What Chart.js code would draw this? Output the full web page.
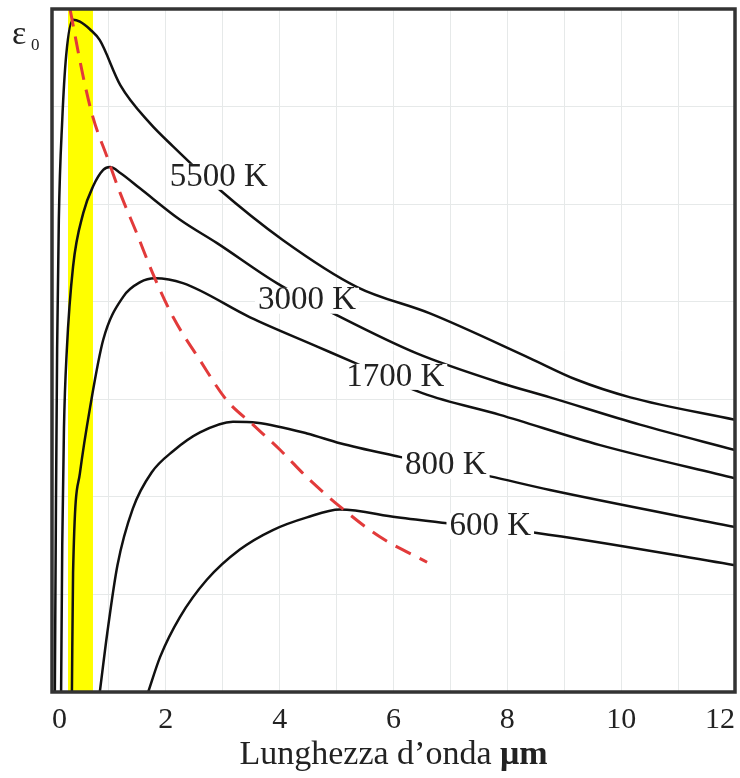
<!DOCTYPE html>
<html lang="it">
  <head>
    <meta charset="UTF-8" />
    <title>Corpo nero</title>
    <script src="https://cdn.jsdelivr.net/npm/chart.js"></script>
    <style>
      body {
        margin: 0;
        padding: 0;
        background: #fff;
      }

      #wrap {
        width: 740px;
        height: 778px;
      }
    </style>
  </head>
  <body>
    <div id="wrap"><canvas id="planck"></canvas></div>

    <script>
      // curve labels (temperatures)
      const kelvin = ["5500 K", "3000 K", "1700 K", "800 K", "600 K"];

      // wavelength (um) and relative emission
      const x5500 = [0.05, 0.07, 0.09, 0.12, 0.18, 0.25, 0.37, 0.49, 0.67, 0.84, 1.2, 1.72, 2.13, 2.9, 4.06, 5.36, 6.64, 8.4, 9.22, 10.16, 12];
      const y5500 = [0, 1.97, 3.51, 4.84, 5.86, 6.53, 6.89, 6.87, 6.79, 6.68, 6.22, 5.83, 5.59, 5.17, 4.63, 4.15, 3.88, 3.42, 3.2, 3.02, 2.79];

      const x3000 = [0.16, 0.18, 0.21, 0.26, 0.37, 0.55, 0.72, 0.9, 1.02, 1.2, 1.55, 2.25, 2.9, 3.95, 5.01, 6.41, 7.87, 8.75, 10.33, 12];
      const y3000 = [0, 1.5, 2.7, 3.5, 4.36, 4.91, 5.18, 5.35, 5.38, 5.32, 5.16, 4.84, 4.6, 4.19, 3.86, 3.47, 3.17, 3.02, 2.74, 2.48];

      const x1700 = [0.35, 0.37, 0.49, 0.67, 0.9, 1.25, 1.55, 1.81, 2.3, 3.48, 4.66, 5.29, 6.52, 7.87, 9.63, 12];
      const y1700 = [0, 1.22, 2.24, 2.92, 3.61, 4.05, 4.2, 4.24, 4.19, 3.84, 3.54, 3.38, 3.06, 2.84, 2.53, 2.19];

      const x800 = [0.84, 0.97, 1.15, 1.42, 1.75, 2.13, 2.6, 3.18, 3.6, 4.48, 5.06, 6.11, 7.7, 8.75, 12];
      const y800 = [0, 0.6, 1.3, 1.88, 2.25, 2.47, 2.66, 2.77, 2.76, 2.65, 2.55, 2.41, 2.21, 2.07, 1.69];

      const x600 = [1.69, 1.9, 2.25, 2.72, 3.3, 3.88, 4.48, 5.06, 6.06, 6.94, 8.52, 12];
      const y600 = [0, 0.36, 0.77, 1.15, 1.46, 1.66, 1.79, 1.87, 1.79, 1.73, 1.63, 1.3];

      // locus of the maxima (dashed red)
      const xWien = [0.32, 0.55, 0.72, 0.97, 1.2, 1.49, 1.77, 2.13, 2.6, 3.07, 3.53, 4.01, 4.48, 5.06, 5.76, 6.59];
      const yWien = [6.99, 6.3, 5.89, 5.48, 5.11, 4.7, 4.29, 3.84, 3.4, 2.99, 2.74, 2.48, 2.2, 1.9, 1.59, 1.33];

      // visible band
      const visibleBand = [0.28, 0.72];

      // where the temperature labels sit
      const labelX = [2.93, 4.48, 6.03, 6.92, 7.7];
      const labelY = [5.29, 4.02, 3.24, 2.33, 1.71];

      const xTicks = [0, 2, 4, 6, 8, 10, 12];
      const yMax = 7;

      const serif = '"Liberation Serif", "Times New Roman", serif';

      function pairs(xs, ys) {
        return xs.map((x, i) => ({ x: x, y: ys[i] }));
      }

      function curve(xs, ys) {
        return {
          data: pairs(xs, ys),
          borderColor: "#111",
          borderWidth: 2.5,
          pointRadius: 0,
          cubicInterpolationMode: "monotone",
          fill: false,
          order: 1,
        };
      }

      // labels on the curves, drawn with a white box so the line breaks
      const curveLabels = {
        id: "curveLabels",
        afterDatasetsDraw(chart) {
          const { ctx, scales } = chart;
          ctx.save();
          ctx.font = "33px " + serif;
          ctx.textAlign = "center";
          ctx.textBaseline = "middle";
          kelvin.forEach((t, i) => {
            const px = scales.x.getPixelForValue(labelX[i]);
            const py = scales.y.getPixelForValue(labelY[i]);
            const w = ctx.measureText(t).width;
            ctx.fillStyle = "#fff";
            ctx.fillRect(px - w / 2 - 3, py - 12, w + 6, 26);
            ctx.fillStyle = "#222";
            ctx.fillText(t, px, py + 1);
          });
          ctx.restore();
        },
        afterDraw(chart) {
          const { ctx, chartArea: a } = chart;
          ctx.save();
          // frame
          ctx.strokeStyle = "#333";
          ctx.lineWidth = 3.5;
          ctx.strokeRect(a.left, a.top, a.right - a.left, a.bottom - a.top);

          // epsilon_0
          ctx.fillStyle = "#222";
          ctx.textBaseline = "alphabetic";
          ctx.textAlign = "left";
          ctx.font = "34px " + serif;
          ctx.fillText("\u03b5", 12, 44);
          ctx.font = "17px " + serif;
          ctx.fillText("0", 31, 50);

          // axis title, um in bold
          const t1 = "Lunghezza d\u2019onda ";
          const t2 = "\u03bcm";
          ctx.font = "34px " + serif;
          const w1 = ctx.measureText(t1).width;
          ctx.font = "bold 34px " + serif;
          const w2 = ctx.measureText(t2).width;
          const x0 = (a.left + a.right) / 2 - (w1 + w2) / 2;
          ctx.font = "34px " + serif;
          ctx.fillText(t1, x0, 764);
          ctx.font = "bold 34px " + serif;
          ctx.fillText(t2, x0 + w1, 764);
          ctx.restore();
        },
      };

      const planckChart = new Chart(document.getElementById("planck"), {
        type: "line",
        data: {
          datasets: [
            {
              data: [
                { x: visibleBand[0], y: yMax },
                { x: visibleBand[1], y: yMax },
              ],
              borderWidth: 0,
              backgroundColor: "#ffff00",
              pointRadius: 0,
              fill: "origin",
              order: 10,
            },
            curve(x5500, y5500),
            curve(x3000, y3000),
            curve(x1700, y1700),
            curve(x800, y800),
            curve(x600, y600),
            {
              data: pairs(xWien, yWien),
              borderColor: "#e23a3a",
              borderWidth: 3,
              borderDash: [17, 10],
              pointRadius: 0,
              cubicInterpolationMode: "monotone",
              fill: false,
              order: 0,
            },
          ],
        },
        options: {
          responsive: true,
          maintainAspectRatio: false,
          animation: false,
          layout: {
            padding: { left: 52, right: 5, top: 9, bottom: 30 },
          },
          plugins: {
            legend: { display: false },
            tooltip: { enabled: false },
          },
          scales: {
            x: {
              type: "linear",
              min: 0,
              max: 12,
              grid: { color: "#e6e9e9", drawTicks: false },
              border: { display: false },
              afterBuildTicks(axis) {
                const t = [];
                for (let v = 0; v <= 12; v++) t.push({ value: v });
                axis.ticks = t;
              },
              // end labels are aligned inside, so no extra side room
              afterFit(axis) {
                axis.paddingLeft = 0;
                axis.paddingRight = 0;
              },
              ticks: {
                autoSkip: false,
                maxRotation: 0,
                align: "inner",
                padding: 10,
                color: "#222",
                font: { family: serif, size: 30 },
                callback: (v) => (xTicks.includes(v) ? String(v) : ""),
              },
            },
            y: {
              min: 0,
              max: yMax,
              grid: { color: "#e6e9e9", drawTicks: false },
              border: { display: false },
              ticks: { display: false, stepSize: 1 },
            },
          },
        },
        plugins: [curveLabels],
      });
    </script>
  </body>
</html>
